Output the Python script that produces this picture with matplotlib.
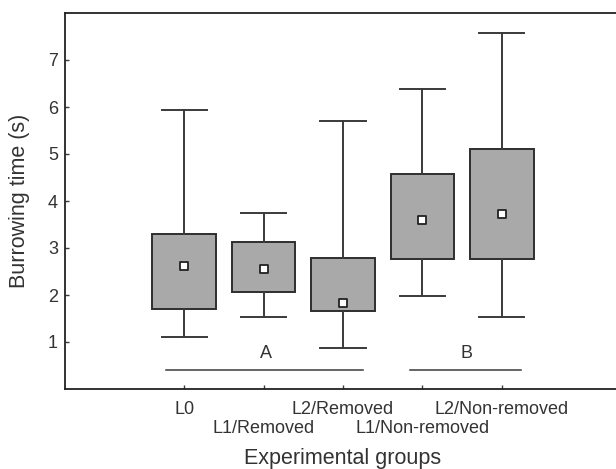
import matplotlib
matplotlib.use("Agg")
import matplotlib.pyplot as plt

categories = ["L0", "L1/Removed", "L2/Removed", "L1/Non-removed", "L2/Non-removed"]
medians = [2.62, 2.55, 1.83, 3.60, 3.72]
q1 = [1.70, 2.06, 1.67, 2.76, 2.76]
q3 = [3.30, 3.12, 2.79, 4.57, 5.11]
whisker_low = [1.11, 1.53, 0.87, 1.97, 1.53]
whisker_high = [5.94, 3.75, 5.71, 6.39, 7.58]

group_names = ["A", "B"]
group_start = [0.77, 3.84]
group_end = [3.25, 5.24]
group_line_y = 0.41
group_label_x = [2.03, 4.56]
group_label_y = 0.76

plt.rcParams["font.family"] = ["Liberation Sans", "DejaVu Sans"]
text_col = "#333333"
line_col = "#3a3a3a"

fig = plt.figure(figsize=(6.16, 4.69), dpi=100)
ax = fig.add_axes([65/616, 80/469, 556/616, 376/469])

positions = list(range(1, len(categories) + 1))
stats = []
for i, c in enumerate(categories):
    stats.append(dict(label=c, med=medians[i], q1=q1[i], q3=q3[i],
                      whislo=whisker_low[i], whishi=whisker_high[i], fliers=[]))

ax.bxp(stats, positions=positions, widths=0.8, capwidths=0.57,
       patch_artist=True, showfliers=False,
       boxprops=dict(facecolor="#a9a9a9", edgecolor="#2e2e2e", linewidth=1.4),
       whiskerprops=dict(color=line_col, linewidth=1.4),
       capprops=dict(color=line_col, linewidth=1.4),
       medianprops=dict(linewidth=0))
ax.scatter(positions, medians, marker="s", s=26, facecolor="white",
           edgecolor="#222222", linewidth=1.3, zorder=5)

for name, s, e, lx in zip(group_names, group_start, group_end, group_label_x):
    ax.plot([s, e], [group_line_y, group_line_y], color=line_col, linewidth=1.1)
    ax.text(lx, group_label_y, name, ha="center", va="center", fontsize=13, color=text_col)

ax.set_xlim(-0.5, 6.5)
ax.set_ylim(0, 8)
ax.set_yticks([1, 2, 3, 4, 5, 6, 7])
ax.set_xticks(positions[0::2])
ax.set_xticklabels(categories[0::2])
ax.set_xticks(positions[1::2], minor=True)
ax.set_xticklabels(categories[1::2], minor=True)
ax.tick_params(axis="both", which="both", direction="in", length=3, width=1,
               colors=line_col, labelsize=13, labelcolor=text_col)
ax.tick_params(axis="x", which="major", pad=8.5)
ax.tick_params(axis="x", which="minor", pad=22.5)
ax.tick_params(axis="y", pad=5)

for sp in ["left", "top", "bottom"]:
    ax.spines[sp].set_linewidth(1.3)
    ax.spines[sp].set_color("#222222")
ax.spines["right"].set_visible(False)

ax.set_xlabel("Experimental groups", fontsize=15.5, color=text_col)
ax.xaxis.label.set_va("center")
ax.xaxis.set_label_coords(0.5, (389 - 458) / 376)
ax.set_ylabel("Burrowing time (s)", fontsize=15.5, color=text_col)
ax.yaxis.label.set_va("center")
ax.yaxis.set_label_coords((20 - 65) / 556, 0.5)

fig.savefig("out.png", dpi=100)
